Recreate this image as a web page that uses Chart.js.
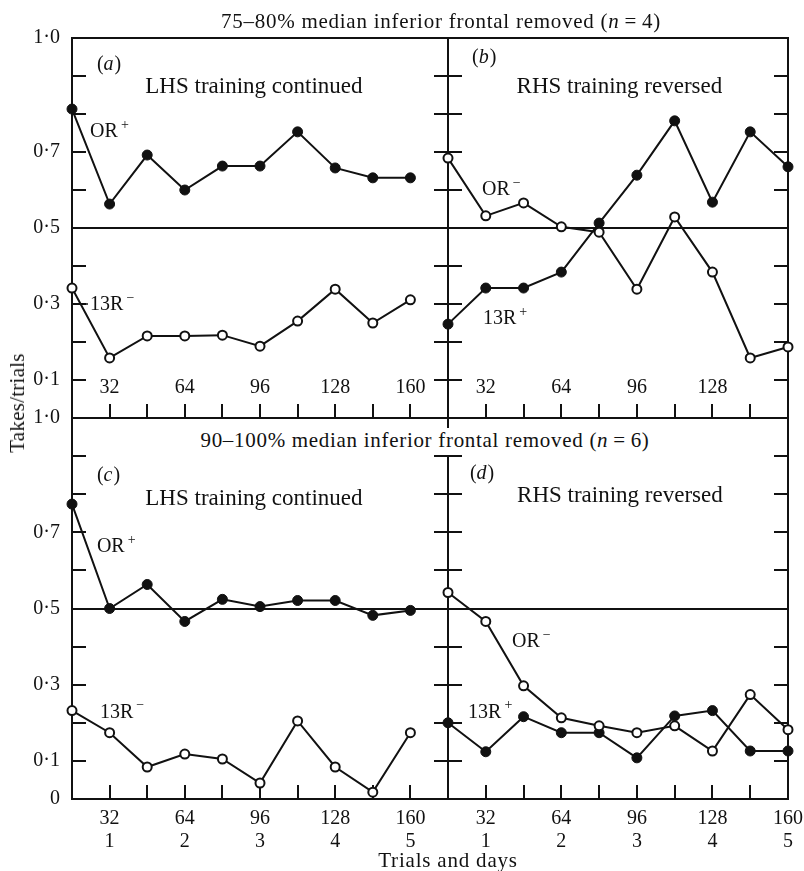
<!DOCTYPE html>
<html>
<head>
<meta charset="utf-8">
<script src="https://cdn.jsdelivr.net/npm/chart.js@4.4.0/dist/chart.umd.min.js"></script>
<style>
  html, body { margin: 0; padding: 0; background: #fff; }
  #wrap { position: relative; width: 804px; height: 871px; overflow: hidden; background: #fff; }
  canvas { position: absolute; left: 0; top: 0; }
  .t { position: absolute; z-index: 5; white-space: nowrap; color: #111;
       font-family: "Liberation Serif", "Times New Roman", serif; font-size: 21px; line-height: 24px; }
  .t i { font-style: italic; }
</style>
</head>
<body>
<div id="wrap">
  <canvas id="pa" width="804" height="871"></canvas>
  <canvas id="pb" width="804" height="871"></canvas>
  <canvas id="pc" width="804" height="871"></canvas>
  <canvas id="pd" width="804" height="871"></canvas>
  <div class="t" style="left:441px; top:9px; transform:translateX(-50%); letter-spacing:0.75px;">75–80% median inferior frontal removed (<i>n</i>&#8201;=&#8201;4)</div>
  <div class="t" style="left:425px; top:428px; transform:translateX(-50%); letter-spacing:0.7px; background:#fff; padding:0 3px 3px 3px;">90–100% median inferior frontal removed (<i>n</i>&#8201;=&#8201;6)</div>
  <div class="t" style="left:17px; top:403px; transform:translate(-50%,-50%) rotate(-90deg); letter-spacing:0.25px;">Takes/trials</div>
  <div class="t" style="left:448px; top:848px; transform:translateX(-50%); letter-spacing:0.8px;">Trials and days</div>
</div>
<script>
// Trial blocks (x values) shared by every panel
const trials = [16, 32, 48, 64, 80, 96, 112, 128, 144, 160];

// Upper row: 75-80% median inferior frontal removed (n = 4)
const aORplus   = [0.813, 0.563, 0.692, 0.600, 0.663, 0.663, 0.753, 0.658, 0.632, 0.632];
const a13Rminus = [0.342, 0.158, 0.216, 0.216, 0.218, 0.189, 0.255, 0.339, 0.250, 0.311];
const bORminus  = [0.684, 0.532, 0.566, 0.503, 0.489, 0.339, 0.529, 0.384, 0.158, 0.187];
const b13Rplus  = [0.247, 0.342, 0.342, 0.384, 0.513, 0.639, 0.782, 0.568, 0.753, 0.661];

// Lower row: 90-100% median inferior frontal removed (n = 6)
const cORplus   = [0.774, 0.500, 0.563, 0.466, 0.524, 0.505, 0.521, 0.521, 0.482, 0.495];
const c13Rminus = [0.232, 0.174, 0.084, 0.118, 0.105, 0.042, 0.205, 0.084, 0.018, 0.174];
const dORminus  = [0.542, 0.466, 0.297, 0.213, 0.192, 0.174, 0.192, 0.126, 0.274, 0.182];
const d13Rplus  = [0.200, 0.124, 0.216, 0.174, 0.174, 0.108, 0.218, 0.232, 0.126, 0.126];

// Tick labels
const trialLabels = [32, 64, 96, 128, 160];
const dayLabels = ['1', '2', '3', '4', '5'];
const upperYLabels = [1.0, 0.7, 0.5, 0.3, 0.1];
const lowerYLabels = [1.0, 0.7, 0.5, 0.3, 0.1, 0];

const ink = '#111';
const serif = '"Liberation Serif", "Times New Roman", serif';
const W = 804, H = 871;

function fmtY(v) { return v === 0 ? '0' : v.toFixed(1).replace('.', '·'); }
function near(a, b) { return Math.abs(a - b) < 1e-6; }

// Draws a text note anchored in data coordinates
function drawNote(chart, n) {
  const { ctx, scales: { x, y } } = chart;
  ctx.save();
  ctx.fillStyle = ink;
  ctx.strokeStyle = ink;
  ctx.textBaseline = 'alphabetic';
  if (n.kind === 'dash') {
    const py = y.getPixelForValue(n.y);
    ctx.lineWidth = 1.5;
    ctx.beginPath();
    ctx.moveTo(x.getPixelForValue(n.x1), py);
    ctx.lineTo(x.getPixelForValue(n.x2), py);
    ctx.stroke();
    ctx.restore();
    return;
  }
  let px = x.getPixelForValue(n.x);
  const py = y.getPixelForValue(n.y);
  const fs = n.size;
  if (n.kind === 'tag') {
    ctx.textAlign = 'left';
    ctx.font = `${fs}px ${serif}`;
    ctx.fillText('(', px, py); px += ctx.measureText('(').width;
    ctx.font = `italic ${fs}px ${serif}`;
    ctx.fillText(n.text, px, py); px += ctx.measureText(n.text).width + 1;
    ctx.font = `${fs}px ${serif}`;
    ctx.fillText(')', px, py);
  } else if (n.kind === 'series') {
    ctx.textAlign = 'left';
    ctx.font = `${fs}px ${serif}`;
    ctx.fillText(n.text, px, py);
    px += ctx.measureText(n.text).width + 3;
    ctx.font = `${Math.round(fs * 0.7)}px ${serif}`;
    ctx.fillText(n.sup, px, py - fs * 0.42);
  } else {
    ctx.textAlign = n.align || 'left';
    ctx.font = `${fs}px ${serif}`;
    ctx.fillText(n.text, px, py);
  }
  ctx.restore();
}

function framePlugin(o) {
  return {
    id: 'panelFrame',
    beforeDatasetsDraw(chart) {
      const { ctx, chartArea: a, scales: { x, y } } = chart;
      const len = 14;
      ctx.save();
      ctx.strokeStyle = ink;
      ctx.lineWidth = 2;
      ctx.strokeRect(a.left, a.top, a.right - a.left, a.bottom - a.top);
      ctx.beginPath();
      y.ticks.forEach(t => {
        if (t.value > y.min + 1e-6 && t.value < y.max - 1e-6) {
          const py = Math.round(y.getPixelForValue(t.value));
          ctx.moveTo(a.left, py); ctx.lineTo(a.left + len, py);
          ctx.moveTo(a.right, py); ctx.lineTo(a.right - len, py);
        }
      });
      x.ticks.forEach(t => {
        if (t.value > x.min + 1e-6 && t.value < x.max - 1e-6) {
          const px = Math.round(x.getPixelForValue(t.value));
          ctx.moveTo(px, a.bottom); ctx.lineTo(px, a.bottom - len);
        }
      });
      ctx.stroke();
      ctx.restore();
    },
    afterDraw(chart) {
      (o.notes || []).forEach(n => drawNote(chart, n));
    }
  };
}

function noPad(s) { s.paddingLeft = 0; s.paddingRight = 0; s.paddingTop = 0; s.paddingBottom = 0; }

function panel(id, o) {
  const yLab = o.yLabels;
  const xH = o.inside ? 0 : H - o.bottom;
  return new Chart(document.getElementById(id), {
    type: 'line',
    data: {
      datasets: o.series.map(s => ({
        data: trials.map((t, i) => ({ x: t, y: s.values[i] })),
        borderColor: ink,
        borderWidth: 2,
        tension: 0,
        fill: false,
        clip: false,
        pointRadius: s.filled ? 5 : 4.5,
        pointBorderWidth: s.filled ? 1 : 2,
        pointBackgroundColor: s.filled ? ink : '#fff',
        pointBorderColor: ink
      }))
    },
    options: {
      responsive: false,
      animation: false,
      events: [],
      layout: {
        autoPadding: false,
        padding: { left: yLab ? 0 : o.left, right: W - o.right, top: o.top, bottom: H - o.bottom - xH }
      },
      plugins: { legend: { display: false }, tooltip: { enabled: false } },
      scales: {
        x: {
          type: 'linear',
          min: 16,
          max: o.xMax,
          grid: { display: false },
          border: { display: false },
          ticks: {
            stepSize: 16,
            autoSkip: false,
            maxRotation: 0,
            minRotation: 0,
            // upper panels carry their trial numbers inside the frame
            mirror: !!o.inside,
            padding: o.inside ? 19 : 0,
            color: ink,
            font: { family: serif, size: 20, lineHeight: 1.15 },
            callback: v => {
              const k = trialLabels.indexOf(v);
              if (k < 0 || !o.xLabels.includes(v)) return '';
              return o.days ? [String(v), dayLabels[k]] : String(v);
            }
          },
          afterFit: s => { s.height = xH; noPad(s); }
        },
        y: {
          min: 0,
          max: 1,
          border: { display: false },
          grid: {
            drawTicks: false,
            lineWidth: 2,
            color: c => (c.tick && near(c.tick.value, 0.5)) ? ink : 'rgba(0,0,0,0)'
          },
          ticks: {
            stepSize: 0.1,
            display: !!yLab,
            padding: 12,
            color: ink,
            font: { family: serif, size: 20 },
            callback: v => (yLab && yLab.some(l => near(l, v))) ? fmtY(v) : ''
          },
          afterFit: s => { s.width = yLab ? o.left : 0; noPad(s); }
        }
      }
    },
    plugins: [framePlugin(o)]
  });
}

// (a) upper left
panel('pa', {
  left: 72, right: 448, top: 38, bottom: 418, xMax: 176,
  yLabels: upperYLabels, xLabels: [32, 64, 96, 128, 160], inside: true, days: false,
  series: [{ values: aORplus, filled: true }, { values: a13Rminus, filled: false }],
  notes: [
    { kind: 'tag', text: 'a', x: 26.6, y: 0.916, size: 20 },
    { kind: 'text', text: 'LHS training continued', x: 93.4, y: 0.855, size: 23, align: 'center' },
    { kind: 'series', text: 'OR', sup: '+', x: 23.7, y: 0.739, size: 20 },
    { kind: 'dash', x1: 19.8, x2: 22.8, y: 0.3 },
    { kind: 'series', text: '13R', sup: '−', x: 23.7, y: 0.284, size: 20 }
  ]
});

// (b) upper right
panel('pb', {
  left: 448, right: 788, top: 38, bottom: 418, xMax: 160,
  yLabels: null, xLabels: [32, 64, 96, 128], inside: true, days: false,
  series: [{ values: bORminus, filled: false }, { values: b13Rplus, filled: true }],
  notes: [
    { kind: 'tag', text: 'b', x: 26.2, y: 0.934, size: 20 },
    { kind: 'text', text: 'RHS training reversed', x: 88.6, y: 0.855, size: 23, align: 'center' },
    { kind: 'series', text: 'OR', sup: '−', x: 30.4, y: 0.587, size: 20 },
    { kind: 'series', text: '13R', sup: '+', x: 30.8, y: 0.247, size: 20 }
  ]
});

// (c) lower left
panel('pc', {
  left: 72, right: 448, top: 418, bottom: 799, xMax: 176,
  yLabels: lowerYLabels, xLabels: [32, 64, 96, 128, 160], inside: false, days: true,
  series: [{ values: cORplus, filled: true }, { values: c13Rminus, filled: false }],
  notes: [
    { kind: 'tag', text: 'c', x: 26.6, y: 0.835, size: 20 },
    { kind: 'text', text: 'LHS training continued', x: 93.4, y: 0.772, size: 23, align: 'center' },
    { kind: 'series', text: 'OR', sup: '+', x: 26.6, y: 0.648, size: 20 },
    { kind: 'series', text: '13R', sup: '−', x: 27.9, y: 0.213, size: 20 }
  ]
});

// (d) lower right
panel('pd', {
  left: 448, right: 788, top: 418, bottom: 799, xMax: 160,
  yLabels: null, xLabels: [32, 64, 96, 128, 160], inside: false, days: true,
  series: [{ values: dORminus, filled: false }, { values: d13Rplus, filled: true }],
  notes: [
    { kind: 'tag', text: 'd', x: 25.3, y: 0.840, size: 20 },
    { kind: 'text', text: 'RHS training reversed', x: 88.8, y: 0.780, size: 23, align: 'center' },
    { kind: 'series', text: 'OR', sup: '−', x: 43.1, y: 0.399, size: 20 },
    { kind: 'series', text: '13R', sup: '+', x: 24.5, y: 0.213, size: 20 }
  ]
});
</script>
</body>
</html>
